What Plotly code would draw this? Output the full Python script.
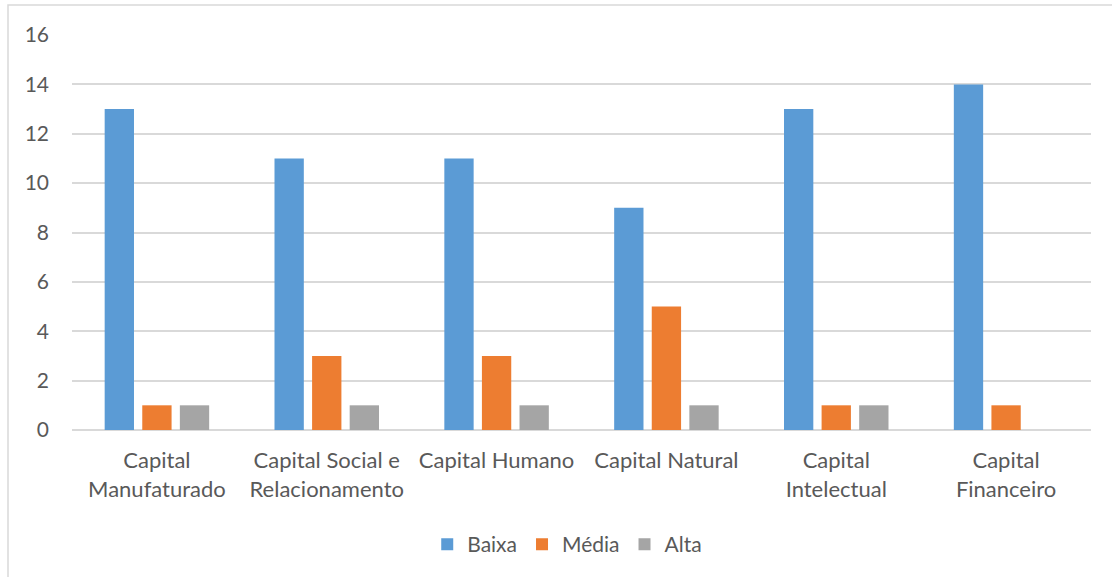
import plotly.graph_objects as go

categories = ["Capital<br>Manufaturado", "Capital Social e<br>Relacionamento", "Capital Humano",
              "Capital Natural", "Capital<br>Intelectual", "Capital<br>Financeiro"]
baixa = [13, 11, 11, 9, 13, 14]
media = [1, 3, 3, 5, 1, 1]
alta = [1, 1, 1, 1, 1, 0]
series_names = ["Baixa", "Média", "Alta"]
colors = ["#5B9BD5", "#ED7D31", "#A5A5A5"]
y_ticks = [0, 2, 4, 6, 8, 10, 12, 14, 16]

FONT = "Lato, Open Sans, sans-serif"
TXT = "#595959"

fig = go.Figure()
for name, vals, col in zip(series_names, [baixa, media, alta], colors):
    fig.add_trace(go.Bar(x=categories, y=vals, name=name, marker=dict(color=col, line=dict(width=0))))

fig.update_layout(
    width=1112, height=577,
    margin=dict(l=72, r=21, t=35, b=147),
    paper_bgcolor="white", plot_bgcolor="white",
    barmode="group", bargap=0.336, bargroupgap=0.22,
    font=dict(family=FONT, color=TXT, size=21),
    showlegend=True,
    legend=dict(orientation="h", x=0.486, xanchor="center", y=-0.29, yanchor="middle",
                font=dict(size=21, color=TXT), itemwidth=30, traceorder="normal"),
    xaxis=dict(showgrid=False, showline=False, ticks="", tickfont=dict(size=22, color=TXT),
               ticklabelstandoff=15),
    yaxis=dict(range=[0, 16], tickvals=y_ticks, showgrid=True, gridcolor="#D9D9D9", gridwidth=1.5,
               zeroline=True, zerolinecolor="#D9D9D9", zerolinewidth=1.5, showline=False,
               ticks="", tickfont=dict(size=21, color=TXT), ticklabelstandoff=22),
    shapes=[dict(type="rect", xref="paper", yref="paper",
                 x0=(8 - 72) / 1019, x1=(1130 - 72) / 1019,
                 y0=(430 - 600) / 395, y1=(430 - 5) / 395,
                 line=dict(color="#D9D9D9", width=1.5), fillcolor="rgba(0,0,0,0)", layer="below")],
)

fig.write_html("out.html")
